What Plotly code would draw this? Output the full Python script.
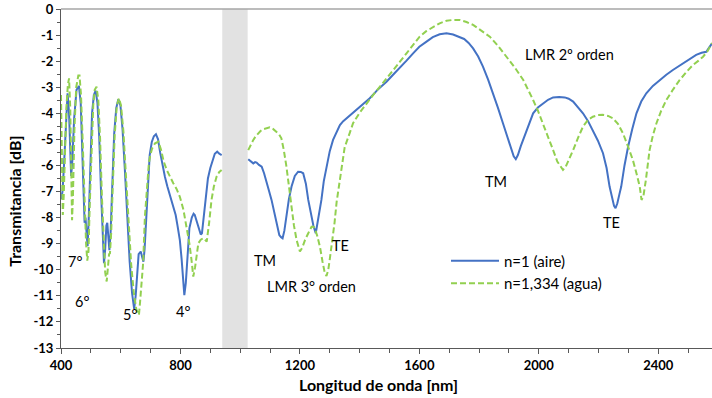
import plotly.graph_objects as go

# Espectros de transmisión (longitud de onda en nm, transmitancia en dB)
aire_wl = [400, 405, 410, 415, 422, 427, 431, 434, 438, 444, 452, 460, 466, 471, 476, 479, 482, 485, 489,
           493, 498, 504, 510, 516, 522, 528, 534, 539, 544, 548, 552, 555, 558, 562, 566, 572, 578, 585,
           592, 599, 606, 614, 622, 630, 638, 645, 650, 655, 660, 667, 672, 676, 680, 685, 690, 697, 704,
           711, 718, 725, 732, 740, 748, 756, 764, 770, 776, 784, 790, 798, 804, 809, 813, 818, 824, 830,
           838, 844, 848, 856, 862, 868, 872, 878, 884, 892, 900, 908, 915, 923, 930, 938, None,
           1027, 1035, 1044, 1050, 1055, 1063, 1072, 1080, 1088, 1096, 1105, 1114, 1122, 1131, 1137, 1142,
           1148, 1155, 1163, 1172, 1183, 1194, 1203, 1211, 1220, 1228, 1236, 1245, 1253, 1259, 1265, 1272,
           1280, 1289, 1300, 1311, 1323, 1334, 1345, 1356, 1372, 1390, 1410, 1434, 1460, 1490, 1512, 1534,
           1557, 1579, 1600, 1624, 1645, 1668, 1691, 1713, 1735, 1750, 1765, 1780, 1797, 1813, 1830, 1847,
           1863, 1880, 1895, 1908, 1916, 1923, 1930, 1940, 1948, 1964, 1981, 1997, 2014, 2031, 2048, 2068,
           2087, 2100, 2115, 2131, 2148, 2165, 2181, 2198, 2215, 2227, 2237, 2246, 2252, 2257, 2263, 2270,
           2276, 2287, 2299, 2313, 2327, 2343, 2360, 2382, 2405, 2427, 2449, 2472, 2494, 2510, 2527, 2545,
           2561, 2572, 2580]
aire_db = [-7.3, -7.0, -6.0, -4.6, -3.23, -4.0, -5.8, -6.4, -5.8, -4.2, -3.1, -2.95, -3.6, -5.5, -7.6, -8.2,
           -8.0, -8.6, -9.1, -8.0, -5.8, -4.0, -3.3, -3.13, -3.6, -4.9, -7.0, -8.8, -9.75, -9.2, -8.3, -8.2,
           -8.6, -9.25, -8.6, -6.5, -4.8, -3.8, -3.46, -3.7, -4.6, -6.2, -8.0, -9.7, -10.9, -11.5, -11.0,
           -10.0, -9.4, -9.3, -9.6, -9.69, -9.2, -8.0, -6.8, -5.6, -5.1, -4.88, -4.8, -5.0, -5.5, -6.0, -6.43,
           -6.8, -7.1, -7.35, -7.58, -7.9, -8.3, -8.86, -9.6, -10.4, -10.97, -10.5, -9.2, -8.4, -8.0, -7.85,
           -7.9, -8.2, -8.45, -8.65, -8.6, -8.0, -7.2, -6.5, -6.1, -5.8, -5.55, -5.47, -5.55, -5.6, None,
           -5.76, -5.85, -5.92, -5.87, -5.89, -5.98, -6.05, -6.3, -6.68, -6.95, -7.32, -7.8, -8.22, -8.67,
           -8.75, -8.79, -8.5, -7.96, -7.3, -6.81, -6.4, -6.24, -6.25, -6.3, -6.7, -7.32, -7.8, -8.3, -8.6,
           -8.2, -7.8, -7.32, -6.6, -6.05, -5.45, -5.02, -4.7, -4.45, -4.3, -4.19, -4.02, -3.87, -3.65, -3.42,
           -3.1, -2.79, -2.52, -2.27, -1.98, -1.7, -1.45, -1.25, -1.08, -0.97, -0.93, -0.98, -1.08, -1.15,
           -1.3, -1.51, -1.82, -2.21, -2.7, -3.23, -3.78, -4.38, -4.95, -5.41, -5.65, -5.76, -5.6, -5.25,
           -5.02, -4.5, -4.0, -3.78, -3.62, -3.48, -3.39, -3.37, -3.39, -3.44, -3.55, -3.75, -4.0, -4.3,
           -4.64, -5.05, -5.53, -6.1, -6.81, -7.3, -7.55, -7.64, -7.45, -7.1, -6.81, -6.0, -5.28, -4.6, -4.0,
           -3.55, -3.23, -2.95, -2.72, -2.52, -2.34, -2.17, -2.02, -1.88, -1.76, -1.68, -1.64, -1.45, -1.32]

agua_wl = [400, 402, 404, 406, 409, 413, 418, 423, 427, 431, 434, 437, 440, 445, 451, 458, 462, 467, 473,
           479, 484, 488, 492, 496, 502, 508, 513, 519, 525, 531, 537, 543, 548, 553, 557, 561, 564, 568,
           574, 580, 587, 594, 601, 609, 617, 626, 635, 644, 652, 658, 661, 665, 670, 675, 681, 688, 694,
           698, 705, 715, 726, 735, 744, 754, 765, 776, 787, 798, 810, 821, 830, 837, 843, 849, 855, 860,
           868, 876, 882, 888, 896, 904, 912, 921, 930, 938, None,
           1027, 1035, 1044, 1052, 1060, 1068, 1077, 1088, 1099, 1110, 1122, 1130, 1138, 1146, 1155, 1163,
           1172, 1180, 1189, 1195, 1200, 1208, 1217, 1228, 1239, 1245, 1250, 1258, 1267, 1276, 1283, 1289,
           1295, 1300, 1306, 1316, 1323, 1330, 1338, 1350, 1367, 1378, 1400, 1423, 1445, 1468, 1490, 1512,
           1535, 1557, 1579, 1601, 1623, 1646, 1668, 1691, 1712, 1735, 1758, 1780, 1808, 1836, 1864, 1892,
           1920, 1948, 1965, 1981, 1997, 2014, 2031, 2048, 2062, 2075, 2081, 2090, 2100, 2115, 2131, 2148,
           2165, 2181, 2198, 2215, 2232, 2248, 2265, 2282, 2298, 2315, 2327, 2338, 2344, 2350, 2358, 2371,
           2382, 2394, 2410, 2427, 2450, 2472, 2494, 2516, 2535, 2550, 2565, 2572, 2580]
agua_db = [-3.3, -4.5, -6.5, -7.9, -7.2, -5.5, -3.8, -2.9, -2.66, -3.8, -6.0, -8.1, -7.2, -4.6, -3.0, -2.55,
           -2.55, -3.3, -5.2, -7.5, -9.0, -9.65, -9.3, -7.6, -5.3, -3.7, -3.1, -2.98, -3.5, -5.0, -7.2, -9.2,
           -10.1, -10.45, -9.8, -9.4, -9.37, -8.6, -6.6, -4.8, -3.7, -3.42, -3.7, -4.7, -6.3, -8.2, -9.8,
           -10.9, -11.5, -11.7, -11.73, -11.2, -10.3, -9.75, -7.96, -6.7, -5.95, -5.66, -5.35, -5.15, -5.09,
           -5.4, -5.85, -6.17, -6.45, -6.68, -6.9, -7.2, -7.7, -8.35, -9.0, -9.62, -10.26, -9.9, -9.3, -8.98,
           -8.85, -8.79, -8.85, -8.92, -8.2, -7.32, -6.8, -6.43, -6.25, -6.17, None,
           -5.41, -5.2, -5.02, -4.88, -4.77, -4.68, -4.61, -4.56, -4.54, -4.6, -4.7, -4.8, -4.96, -5.4,
           -6.05, -6.8, -7.58, -8.3, -8.86, -9.15, -9.3, -9.15, -8.86, -8.6, -8.35, -8.35, -8.41, -8.7,
           -9.11, -9.7, -10.1, -10.24, -10.0, -9.6, -9.11, -8.2, -7.4, -6.8, -6.2, -5.3, -4.75, -4.38,
           -3.98, -3.62, -3.3, -2.98, -2.65, -2.34, -2.02, -1.7, -1.37, -1.06, -0.85, -0.68, -0.55, -0.45,
           -0.42, -0.42, -0.5, -0.61, -0.82, -1.06, -1.42, -1.83, -2.25, -2.72, -3.1, -3.49, -3.9, -4.38,
           -4.9, -5.41, -5.85, -6.1, -6.17, -6.05, -5.8, -5.41, -4.95, -4.51, -4.25, -4.13, -4.07, -4.06,
           -4.1, -4.19, -4.4, -4.77, -5.25, -5.79, -6.3, -6.81, -7.32, -7.2, -6.6, -5.41, -4.85, -4.38,
           -3.9, -3.49, -3.08, -2.72, -2.42, -2.15, -1.98, -1.83, -1.62, -1.44, -1.3]

serie_nombres = ["n=1 (aire)", "n=1,334 (agua)"]

# Etiquetas de las resonancias: (texto, longitud de onda, dB)
etiquetas = [
    ("7°", 447, -9.7), ("6°", 470, -11.2), ("5°", 631, -11.7), ("4°", 808, -11.6),
    ("TM", 1083, -9.66), ("TE", 1337, -9.05), ("LMR 3° orden", 1240, -10.66),
    ("TM", 1856, -6.6), ("TE", 2244, -8.17), ("LMR 2º orden", 2103, -1.73),
]

# Zona sin medida entre detectores
banda_sin_datos = (940, 1025)

xtick_vals = [400, 800, 1200, 1600, 2000, 2400]
xtick_text = ["400", "800", "1200", "1600", "2000", "2400"]
ytick_vals = list(range(0, -14, -1))
ytick_text = ["0"] + [f"-{i}" for i in range(1, 14)]

titulo_x = "Longitud de onda [nm]"
titulo_y = "Transmitancia [dB]"

FONT = "Lato, Open Sans, sans-serif"
AXIS_COLOR = "#595959"

fig = go.Figure()
fig.add_trace(go.Scatter(x=aire_wl, y=aire_db, mode="lines", name=serie_nombres[0],
                         line=dict(color="#4472C4", width=2), connectgaps=False))
fig.add_trace(go.Scatter(x=agua_wl, y=agua_db, mode="lines", name=serie_nombres[1],
                         line=dict(color="#92D050", width=2, dash="6px,3px"), connectgaps=False))

fig.add_shape(type="rect", xref="x", yref="paper", x0=banda_sin_datos[0], x1=banda_sin_datos[1],
              y0=0, y1=1, fillcolor="#E2E2E2", line=dict(width=0), layer="below")
# borde superior del área de trazado
fig.add_shape(type="line", xref="paper", yref="paper", x0=0, x1=1, y0=1, y1=1,
              line=dict(color="#A6A6A6", width=1.5))

for texto, x, y in etiquetas:
    fig.add_annotation(x=x, y=y, text=texto, showarrow=False,
                       font=dict(family=FONT, size=14.5, color="#000000"))

# títulos de los ejes
fig.add_annotation(xref="paper", yref="paper", x=0.488, y=-0.109, text=f"<b>{titulo_x}</b>",
                   showarrow=False, xanchor="center", yanchor="middle",
                   font=dict(family=FONT, size=16, color="#000000"))
fig.add_annotation(xref="paper", yref="paper", x=-0.0707, y=0.434, text=f"<b>{titulo_y}</b>",
                   showarrow=False, textangle=-90, xanchor="center", yanchor="middle",
                   font=dict(family=FONT, size=16, color="#000000"))

fig.update_layout(
    width=712, height=398,
    margin=dict(l=61, r=0, t=9, b=50),
    paper_bgcolor="white", plot_bgcolor="white",
    font=dict(family=FONT, color="#000000"),
    showlegend=True,
    legend=dict(x=0.5914, y=0.305, xanchor="left", yanchor="top", bgcolor="rgba(0,0,0,0)",
                itemwidth=48, font=dict(family=FONT, size=15, color="#000000"), tracegroupgap=0),
    xaxis=dict(range=[400, 2580], tickvals=xtick_vals, ticktext=xtick_text,
               showgrid=False, zeroline=False, showline=True, linecolor=AXIS_COLOR, linewidth=1,
               ticks="outside", ticklen=5, tickcolor=AXIS_COLOR,
               minor=dict(dtick=100, tick0=400, ticks="outside", ticklen=4, tickcolor=AXIS_COLOR),
               tickfont=dict(family=FONT, size=13, color="#000000", weight="bold")),
    yaxis=dict(range=[-13, 0], tickvals=ytick_vals, ticktext=ytick_text,
               showgrid=False, zeroline=False, showline=True, linecolor=AXIS_COLOR, linewidth=1,
               ticks="outside", ticklen=4, tickcolor=AXIS_COLOR,
               minor=dict(dtick=0.5, tick0=0, ticks="outside", ticklen=3, tickcolor=AXIS_COLOR),
               tickfont=dict(family=FONT, size=13, color="#000000", weight="bold")),
)

fig.write_html("out.html")
